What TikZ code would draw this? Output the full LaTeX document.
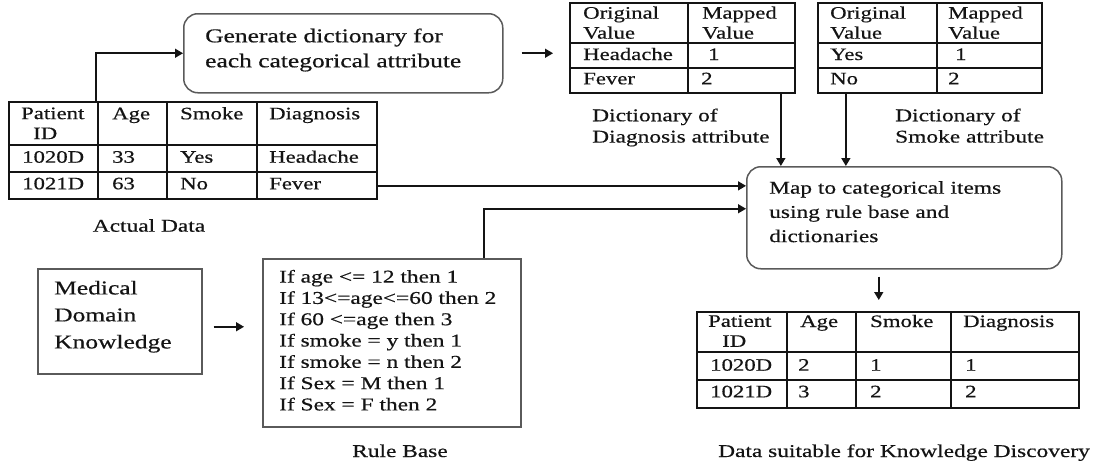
\documentclass[tikz,border=0pt]{standalone}
\usepackage{fontspec}
\setmainfont{Liberation Serif}[FakeStretch=1.3, FakeBold=0.5]
\usetikzlibrary{arrows.meta, positioning, calc}

\definecolor{boxgray}{RGB}{90,90,90}
\definecolor{inkblack}{RGB}{20,20,20}

\newcommand{\bodyfont}{\fontsize{18}{21.3}\selectfont}
\newcommand{\cellfont}{\fontsize{17.5}{20}\selectfont}
\newcommand{\bigfont}{\fontsize{19.6}{25}\selectfont}

\tikzset{every node/.append style={align=left}}
\tikzset{
  rbox/.style={rectangle, draw=boxgray, line width=1.5pt, rounded corners=14pt, inner sep=0pt},
  pbox/.style={rectangle, draw=boxgray, line width=1.5pt, inner sep=0pt},
  tbl/.style={rectangle, draw=inkblack, line width=1.7pt, inner sep=0pt},
  tline/.style={draw=inkblack, line width=1.7pt},
  cell/.style={anchor=base west, inner sep=0pt, font=\cellfont, text=inkblack},
  hcell/.style={anchor=north west, inner sep=0pt, font=\cellfont, text=inkblack},
  txt/.style={anchor=north west, inner sep=0pt, font=\bodyfont, text=inkblack},
  captxt/.style={anchor=base, inner sep=0pt, font=\bodyfont, text=inkblack},
  arrow/.style={-{Triangle[length=8pt, width=9pt]}, line width=1.6pt, inkblack}
}

\begin{document}
\begin{tikzpicture}[x=1pt, y=-1pt]
  \useasboundingbox (0,0) rectangle (1094,463);

  % process boxes
  \node[rbox, minimum width=319pt, minimum height=79pt, anchor=north west] (gen) at (183,13) {};
  \node[txt, font=\bigfont] (genTxt) at (205,28.3) {Generate dictionary for\\each categorical attribute};
  \node[rbox, minimum width=315pt, minimum height=102pt, anchor=north west] (map) at (746,166) {};
  \node[txt, font={\fontsize{18}{24.2}\selectfont}] (mapTxt) at (769,181) {Map to categorical items\\using rule base and\\dictionaries};
  \node[pbox, minimum width=164pt, minimum height=105pt, anchor=north west] (med) at (37,268) {};
  \node[txt, font={\fontsize{19.6}{27}\selectfont}] (medTxt) at (54,280.6) {Medical\\Domain\\Knowledge};
  \node[pbox, minimum width=258pt, minimum height=168pt, anchor=north west] (rulebase) at (262,258) {};
  \node[txt] (ruleTxt) at (279,269.7) {If age <= 12 then 1\\If 13<=age<=60 then 2\\If 60 <=age then 3\\If smoke = y then 1\\If smoke = n then 2\\If Sex = M then 1\\If Sex = F then 2};

  % tables
  \node[tbl, minimum width=368pt, minimum height=97pt, anchor=north west] (data) at (8,101) {};
  \node[tbl, minimum width=225pt, minimum height=90pt, anchor=north west] (diag) at (569,2) {};
  \node[tbl, minimum width=224pt, minimum height=90pt, anchor=north west] (smk) at (817,2) {};
  \node[tbl, minimum width=382pt, minimum height=96pt, anchor=north west] (out) at (696,311) {};

  \foreach \x in {98,167,257} \draw[tline] (\x,101) -- (\x,198);
  \foreach \y in {145,172} \draw[tline] (8,\y) -- (376,\y);
  \draw[tline] (688,2) -- (688,92);
  \foreach \y in {43,68} \draw[tline] (569,\y) -- (794,\y);
  \draw[tline] (937,2) -- (937,92);
  \foreach \y in {43,68} \draw[tline] (817,\y) -- (1041,\y);
  \foreach \x in {787,856,951} \draw[tline] (\x,311) -- (\x,407);
  \foreach \y in {352,380} \draw[tline] (696,\y) -- (1078,\y);

  % actual data
  \node[hcell] (dIdH) at (21,107.3) {Patient\\\hspace*{12pt}ID};
  \foreach \t/\x [count=\c] in {Age/112, Smoke/180, Diagnosis/269}
    \node[cell] (dH\c) at (\x,119.3) {\t};
  \foreach \pid/\pa/\ps/\pd [count=\r] in {1020D/33/Yes/Headache, 1021D/63/No/Fever} {
    \pgfmathsetmacro{\yb}{162.7+26.6*(\r-1)}
    \node[cell] (dR\r c1) at (22,\yb) {\pid};
    \node[cell] (dR\r c2) at (112,\yb) {\pa};
    \node[cell] (dR\r c3) at (180,\yb) {\ps};
    \node[cell] (dR\r c4) at (269,\yb) {\pd};
  }
  \node[captxt] (dataCap) at (149,231.7) {Actual Data};

  % dictionaries
  \node[hcell] (gH1) at (583,6.3) {Original\\Value};
  \node[hcell] (gH2) at (702,6.3) {Mapped\\Value};
  \node[cell] (gR1c1) at (583,60) {Headache};
  \node[cell] (gR1c2) at (708,60) {1};
  \node[cell] (gR2c1) at (583,84.3) {Fever};
  \node[cell] (gR2c2) at (701,84.3) {2};
  \node[txt] (diagLbl) at (592,108.4) {Dictionary of\\Diagnosis attribute};

  \node[hcell] (sH1) at (830,6.3) {Original\\Value};
  \node[hcell] (sH2) at (948,6.3) {Mapped\\Value};
  \node[cell] (sR1c1) at (830,60) {Yes};
  \node[cell] (sR1c2) at (955,60) {1};
  \node[cell] (sR2c1) at (830,84.3) {No};
  \node[cell] (sR2c2) at (948,84.3) {2};
  \node[txt] (smkLbl) at (895,108.4) {Dictionary of\\Smoke attribute};

  % mapped data
  \node[hcell] (oIdH) at (708,315) {Patient\\\hspace*{14pt}ID};
  \foreach \t/\x [count=\c] in {Age/800, Smoke/870, Diagnosis/963}
    \node[cell] (oH\c) at (\x,327) {\t};
  \foreach \pid/\pa/\ps/\pd [count=\r] in {1020D/2/1/1, 1021D/3/2/2} {
    \pgfmathsetmacro{\yb}{370.7+26.6*(\r-1)}
    \node[cell] (oR\r c1) at (710,\yb) {\pid};
    \node[cell] (oR\r c2) at (798,\yb) {\pa};
    \node[cell] (oR\r c3) at (870,\yb) {\ps};
    \node[cell] (oR\r c4) at (965,\yb) {\pd};
  }
  \node[captxt] (outCap) at (904,457) {Data suitable for Knowledge Discovery};
  \node[captxt] (ruleCap) at (400,457) {Rule Base};

  % flow
  \draw[arrow] ([xshift=88pt]data.north west) |- (gen.west);
  \draw[arrow, shorten <=18pt, shorten >=16pt] (gen.east) -- (gen.east -| diag.west);
  \draw[arrow] ([xshift=98.5pt]diag.south) -- ([xshift=98.5pt]diag.south |- map.north);
  \draw[arrow] ([xshift=-84pt]smk.south) -- ([xshift=-84pt]smk.south |- map.north);
  \draw[arrow] ([yshift=-35.5pt]data.east) -- ([yshift=-35.5pt]data.east -| map.west);
  \draw[arrow] ([xshift=92pt]rulebase.north) |- ([yshift=9pt]map.west);
  \draw[arrow, shorten <=11pt, shorten >=18pt] ([yshift=-5.5pt]med.east) -- ([yshift=-5.5pt]med.east -| rulebase.west);
  \draw[arrow, shorten <=7pt, shorten >=11pt] ([xshift=-25.5pt]map.south) -- ([xshift=-25.5pt]map.south |- out.north);
\end{tikzpicture}
\end{document}
